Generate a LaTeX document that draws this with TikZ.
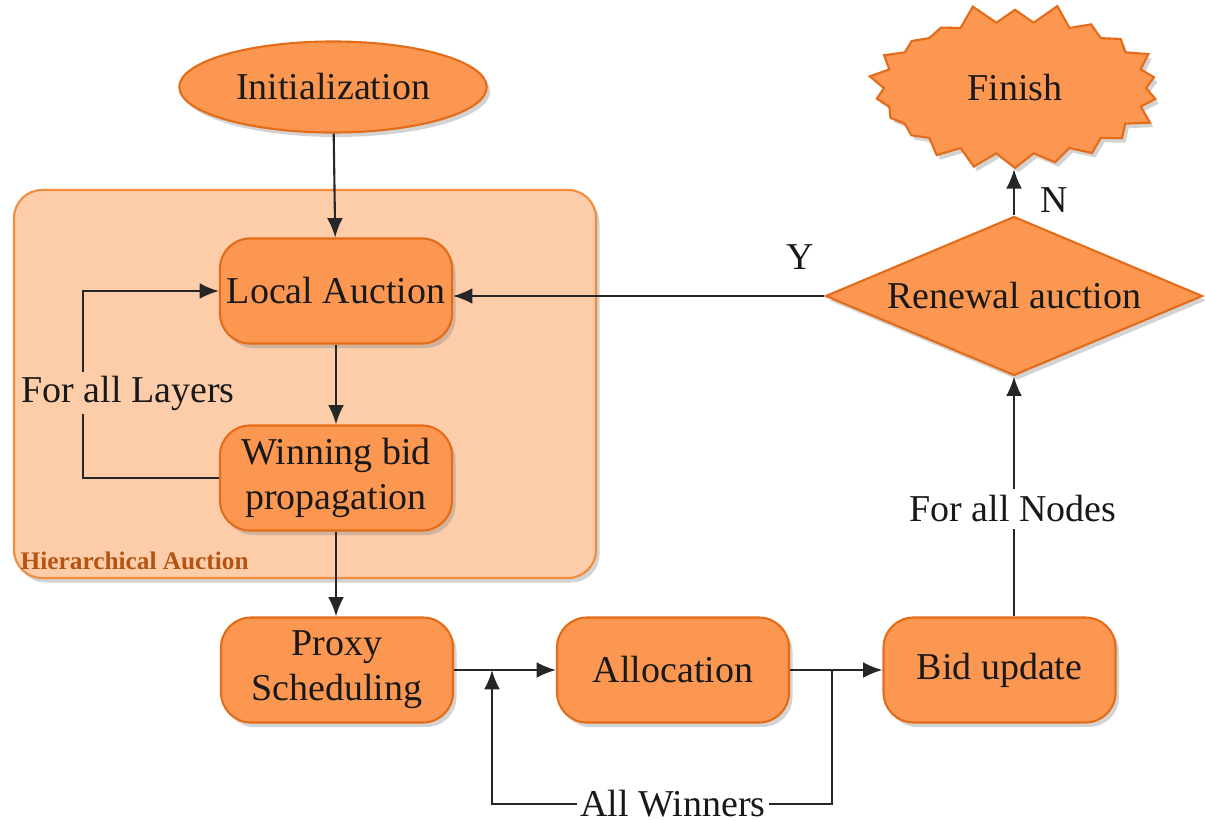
\documentclass[tikz,border=0pt]{standalone}
\usepackage{fontspec}
\setmainfont{Liberation Serif}
\usetikzlibrary{arrows.meta,shapes.geometric,shapes.symbols,shadows}

\definecolor{stepfill}{RGB}{252,151,82}
\definecolor{stepline}{RGB}{228,108,24}
\definecolor{groupfill}{RGB}{253,205,170}
\definecolor{groupline}{RGB}{240,140,62}
\definecolor{grouptext}{RGB}{180,84,18}
\definecolor{inktext}{RGB}{25,25,25}

\begin{document}
\begin{tikzpicture}[
    txt/.style={font=\fontsize{10.8}{12.8}\selectfont, text=inktext, align=center},
    shade/.style={drop shadow={opacity=0.35, shadow xshift=0.035cm, shadow yshift=-0.045cm}},
    stepbox/.style={txt, shade, draw=stepline, fill=stepfill, line width=0.6pt,
      rounded corners=0.3cm, minimum width=2.32cm, minimum height=1.05cm, inner sep=1pt},
    startnode/.style={txt, shade, ellipse, draw=stepline, fill=stepfill, line width=0.6pt,
      minimum width=2.86cm, minimum height=0.91cm},
    endnode/.style={txt, shade, starburst, random starburst=5, starburst points=22,
      starburst point height=0.2cm, draw=stepline, fill=stepfill, line width=0.6pt,
      minimum width=3.02cm, minimum height=1.72cm, inner sep=0pt},
    decision/.style={txt, shade, diamond, aspect=2.37, draw=stepline, fill=stepfill,
      line width=0.6pt, minimum width=3.77cm, minimum height=1.59cm, inner sep=0pt},
    flow/.style={line width=0.6pt, draw=black!85, -{Latex[length=5.5pt,width=4.5pt]}},
    ]
    \useasboundingbox (0,0) rectangle (12.05,-8.2);

    % hierarchical auction group
    \node[shade, draw=groupline, fill=groupfill, line width=0.6pt, rounded corners=0.28cm,
      minimum width=5.82cm, minimum height=3.88cm] (hier) at (3.05,-3.84) {};
    \node[font=\fontsize{7.2}{8}\selectfont\bfseries, text=grouptext, anchor=west,
      inner sep=0pt] (hierlabel) at (0.2,-5.61) {Hierarchical Auction};

    \node[startnode] (init) at (3.33,-0.87) {Initialization};
    \node[stepbox] (local) at (3.36,-2.91) {Local Auction};
    \node[stepbox] (winbid) at (3.36,-4.78) {Winning bid\\propagation};
    \node[stepbox] (proxy) at (3.37,-6.70) {Proxy\\Scheduling};
    \node[stepbox] (alloc) at (6.73,-6.70) {Allocation};
    \node[stepbox] (bidupd) at (9.995,-6.70) {Bid update};
    \node[decision] (renew) at (10.14,-2.96) {Renewal auction};
    \node[endnode] (finish) at (10.15,-0.88) {Finish};

    \coordinate (jp) at (4.92,-6.70);
    \coordinate (jw) at (8.32,-6.70);

    \draw[flow] (init) -- (local);
    \draw[flow] (local) -- (winbid);
    \draw[flow] (winbid.south) -- (winbid.south |- proxy.north);
    \draw[flow] (winbid.west) -- ++(-1.36,0) |- (local.west);
    \node[txt, fill=groupfill, inner sep=1pt] (layers) at (1.28,-3.93) {For all Layers};

    \draw[flow] (proxy) -- (alloc);
    \draw[flow] (alloc) -- (bidupd);
    \draw[flow] (jw) -- ++(0,-1.34) -| (jp);
    \node[txt, fill=white, inner sep=1pt] (winners) at (6.73,-8.04) {All Winners};

    \draw[flow] (renew.south |- bidupd.north) -- (renew.south);
    \node[txt, fill=white, inner sep=2pt] (nodes) at (10.13,-5.09) {For all Nodes};

    \draw[flow] (renew.west) -- (renew.west -| local.east);
    \node[txt, anchor=south] (yes) at (8.0,-2.82) {Y};
    \draw[flow] (renew.north) -- (finish.south -| renew.north);
    \node[txt] (no) at (10.54,-2.0) {N};
\end{tikzpicture}
\end{document}
